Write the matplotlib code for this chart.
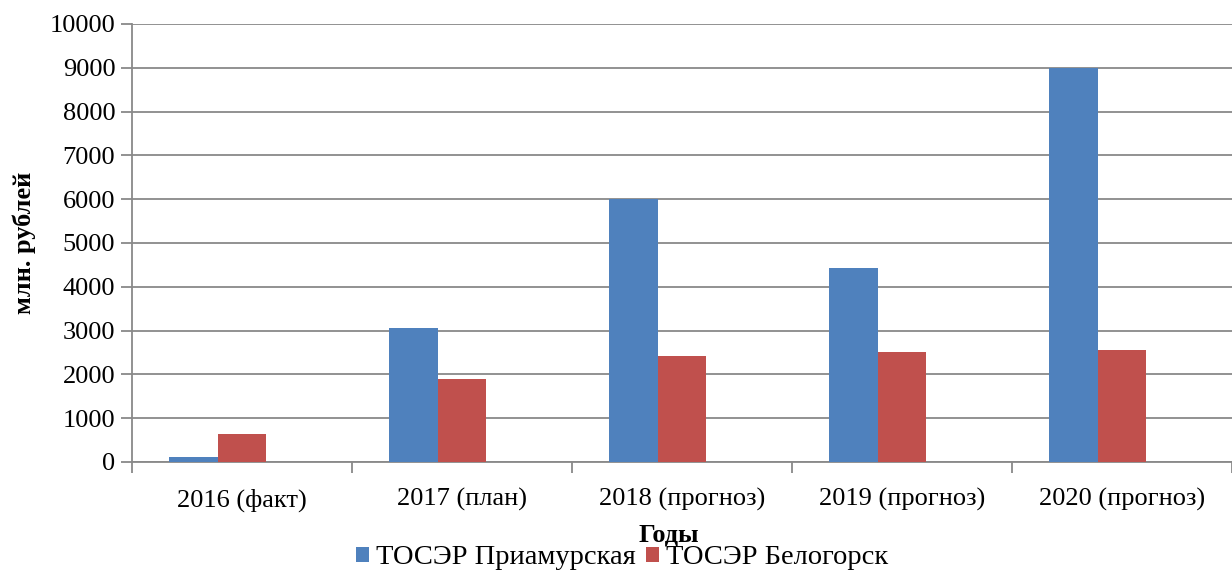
import matplotlib.pyplot as plt
import numpy as np

plt.rcParams['font.family'] = ['Liberation Serif', 'DejaVu Serif']

categories = ['2016 (факт)', '2017 (план)', '2018 (прогноз)', '2019 (прогноз)', '2020 (прогноз)']
priamurskaya = [120, 3050, 6000, 4430, 9000]
belogorsk = [640, 1890, 2430, 2520, 2550]
series_names = ['ТОСЭР Приамурская', 'ТОСЭР Белогорск']

fig = plt.figure(figsize=(12.32, 5.71), dpi=100)
ax = fig.add_axes([0.1071, 0.1909, 0.8929, 0.7671])

x = np.arange(len(categories))
w = 0.222
grid_c = '#898989'
fs = 19

ax.bar(x - w, priamurskaya, w, color='#4F81BD', label=series_names[0], zorder=3)
ax.bar(x, belogorsk, w, color='#C0504D', label=series_names[1], zorder=3)

ax.set_xlim(-0.5, len(categories) - 0.5)
ax.set_ylim(0, 10000)
ax.set_yticks(np.arange(0, 10001, 1000))
ax.set_xticks(x)
ax.set_xticklabels(categories)
ax.set_xticks(np.arange(-0.5, len(categories)), minor=True)
ax.tick_params(axis='x', which='major', length=0, pad=19, labelsize=fs)
ax.tick_params(axis='x', which='minor', length=8, color=grid_c, width=1.3)
ax.tick_params(axis='y', length=8, color=grid_c, width=1.3, labelsize=fs, pad=4)

ax.yaxis.grid(True, color=grid_c, linewidth=1.3, zorder=0)
for s in ['top', 'right']:
    ax.spines[s].set_visible(False)
for s in ['left', 'bottom']:
    ax.spines[s].set_color(grid_c)
    ax.spines[s].set_linewidth(1.3)

ax.set_ylabel('млн. рублей', fontsize=fs, fontweight='bold', labelpad=10)
fig.text(669 / 1232, 1 - 535 / 571, 'Годы', fontsize=fs, fontweight='bold',
         ha='center', va='center')

handles, labels = ax.get_legend_handles_labels()
fig.legend(handles, labels, loc='center', bbox_to_anchor=(622 / 1232, 1 - 558 / 571),
           ncol=2, frameon=False, prop={'family': 'Liberation Serif', 'size': 20.5},
           handlelength=0.46, handleheight=0.46, handletextpad=0.25,
           columnspacing=0.35, borderpad=0)

fig.savefig('out.png', dpi=100, facecolor='white')
